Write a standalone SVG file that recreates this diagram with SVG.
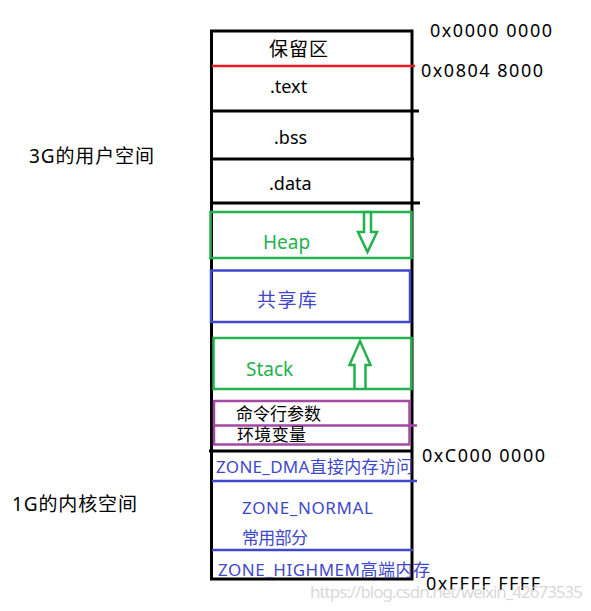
<svg xmlns="http://www.w3.org/2000/svg" width="591" height="611" viewBox="0 0 591 611">
<style>
text{font-family:"Noto Sans","Noto Sans CJK SC",sans-serif;font-size:18px;fill:#000}
.blk{stroke:#000;stroke-width:3;fill:none}
.grn{stroke:#22b14c;stroke-width:2.5;fill:none}
.blu{stroke:#3f48cc;stroke-width:2.5;fill:none}
.pur{stroke:#a349a4;stroke-width:2.5;fill:none}
.tg{fill:#22b14c;font-size:19px}
.tb{fill:#3f48cc;font-size:17px}
.tp{font-size:17px}
.cj{font-size:19px}
.hex{font-size:18px}
</style>
<rect width="591" height="611" fill="#fff"/>
<g id="frame">
<rect class="blk" x="211.5" y="31" width="200.5" height="548"/>
</g>
<g id="lines">
<line x1="212" y1="66" x2="415" y2="66" stroke="#ed1c24" stroke-width="2.5"/>
<line class="blk" x1="212" y1="111" x2="419" y2="111"/>
<line class="blk" x1="212" y1="159" x2="414" y2="159"/>
<line class="blk" x1="212" y1="203" x2="420" y2="203"/>
<line class="blk" x1="209" y1="451" x2="412" y2="451"/>
<line class="blu" x1="212" y1="481" x2="417" y2="481"/>
<line class="blu" x1="212" y1="550" x2="413" y2="550"/>
</g>
<g id="reserved"><text class="cj" x="269" y="56" textLength="59">保留区</text></g>
<g id="text"><text x="270" y="93">.text</text></g>
<g id="bss"><text x="274" y="144">.bss</text></g>
<g id="data"><text x="269" y="190">.data</text></g>
<g id="heap">
<rect class="grn" x="210.5" y="212" width="201" height="46"/>
<path class="grn" d="M364 212 L371 212 L371 232 L377 232 L367.5 252 L358 232 L364 232 Z"/>
<text class="tg" x="263" y="249">Heap</text>
</g>
<g id="shared">
<rect class="blu" x="211" y="270.5" width="199" height="51.5"/>
<text class="cj" x="257" y="307" style="fill:#3f48cc" textLength="60">共享库</text>
</g>
<g id="stack">
<rect class="grn" x="213.5" y="338" width="198" height="51"/>
<path class="grn" d="M354.5 388 L354.5 365 L349.5 365 L360 341 L370.5 365 L365.5 365 L365.5 388"/>
<text class="tg" x="246" y="376">Stack</text>
</g>
<g id="args">
<rect class="pur" x="214" y="401" width="195.5" height="43.5"/>
<line class="pur" x1="214" y1="425.5" x2="417" y2="425.5"/>
<text class="tp" x="236" y="420" textLength="85">命令行参数</text>
<text class="tp" x="237" y="441" textLength="69">环境变量</text>
</g>
<g id="zone-dma"><text class="tb" x="216" y="473" textLength="197">ZONE_DMA直接内存访问</text></g>
<g id="zone-normal">
<text class="tb" x="242" y="514" textLength="131">ZONE_NORMAL</text>
<text class="tb" x="242" y="544" textLength="66">常用部分</text>
</g>
<g id="zone-highmem"><text class="tb" x="218" y="576" textLength="212">ZONE_HIGHMEM高端内存</text></g>
<g id="addresses">
<text class="hex" x="430" y="37" textLength="122">0x0000 0000</text>
<text class="hex" x="421" y="77" textLength="122">0x0804 8000</text>
<text class="hex" x="422" y="462" textLength="123">0xC000 0000</text>
<text class="hex" x="426" y="590" textLength="114">0xFFFF FFFF</text>
</g>
<g id="space-labels">
<text class="cj" x="29" y="163" textLength="125">3G的用户空间</text>
<text class="cj" x="12" y="511" textLength="125">1G的内核空间</text>
</g>
<text x="310" y="598" style="fill:#cfcfcf;font-size:17px" fill-opacity="0.8" textLength="273">https://blog.csdn.net/weixin_42673535</text>
</svg>
